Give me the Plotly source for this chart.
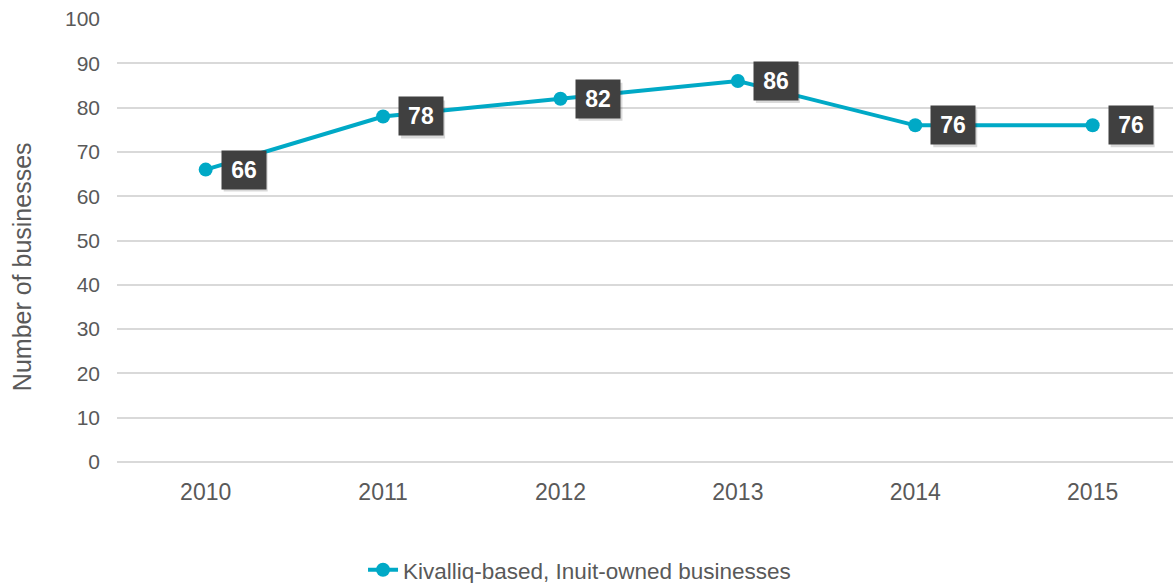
import plotly.graph_objects as go

years = ["2010", "2011", "2012", "2013", "2014", "2015"]
businesses = [66, 78, 82, 86, 76, 76]
series_name = "Kivalliq-based, Inuit-owned businesses"
y_title = "Number of businesses"

line_color = "#00A9C6"
label_bg = "#404040"
text_gray = "#595959"
grid_gray = "#D9D9D9"
font_family = "Liberation Sans, Arial, sans-serif"

fig = go.Figure()
fig.add_trace(go.Scatter(
    x=years, y=businesses, name=series_name,
    mode="lines+markers",
    line=dict(color=line_color, width=4),
    marker=dict(color=line_color, size=14),
))

# value labels: dark boxes just right of each point, each with a soft drop shadow
for i, v in enumerate(businesses):
    fig.add_shape(
        type="rect", xref="x", yref="y",
        xsizemode="pixel", ysizemode="pixel", xanchor=i, yanchor=v,
        x0=18, x1=62, y0=-22, y1=16,
        line=dict(width=0), fillcolor="rgba(0,0,0,0.15)", layer="above",
    )
    fig.add_annotation(
        x=i, y=v, text=f"<b>{v}</b>", showarrow=False,
        xanchor="left", yanchor="middle", xshift=15,
        width=36, height=30, borderpad=4,
        font=dict(family=font_family, size=23, color="white"),
        bgcolor=label_bg,
    )

# rotated y-axis title
fig.add_annotation(
    xref="paper", yref="paper", x=-0.09, y=0.442,
    text=y_title, textangle=-90, showarrow=False,
    xanchor="center", yanchor="middle",
    font=dict(family=font_family, size=25, color=text_gray),
)

fig.update_layout(
    width=1173, height=583,
    margin=dict(l=117, r=0, t=19, b=121),
    paper_bgcolor="white", plot_bgcolor="white",
    font=dict(family=font_family, color=text_gray),
    showlegend=True,
    legend=dict(orientation="h", x=0.438, xanchor="center",
                yref="container", y=0.022, yanchor="middle",
                font=dict(size=22.5, color=text_gray)),
    xaxis=dict(
        type="category", range=[-0.5, 5.453], automargin=False,
        showgrid=False, zeroline=False, showline=False,
        tickfont=dict(size=23, color=text_gray), ticklabelstandoff=14,
    ),
    yaxis=dict(
        range=[0, 100], dtick=10, tick0=0, automargin=False,
        showgrid=True, gridcolor=grid_gray, gridwidth=1.5,
        zeroline=True, zerolinecolor=grid_gray, zerolinewidth=1.5,
        showline=False,
        tickfont=dict(size=21, color=text_gray), ticklabelstandoff=16,
    ),
)

fig.write_html("out.html")
